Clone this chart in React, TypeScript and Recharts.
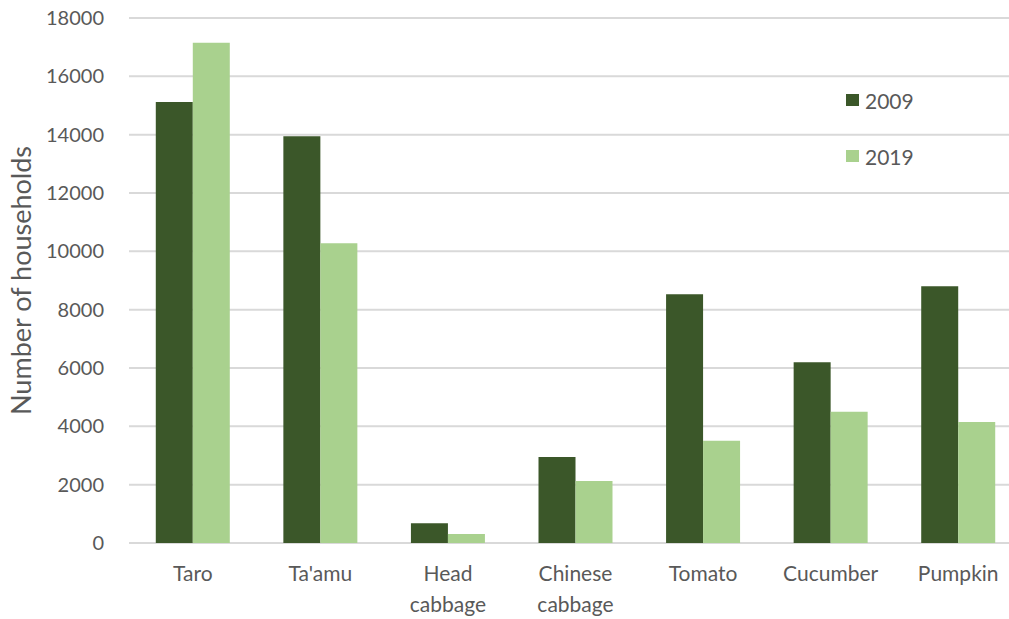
import { Bar, BarChart, CartesianGrid, Legend, XAxis, YAxis } from 'recharts';

const crops = ['Taro', "Ta'amu", 'Head cabbage', 'Chinese cabbage', 'Tomato', 'Cucumber', 'Pumpkin'];
const households2009 = [15120, 13950, 680, 2950, 8530, 6200, 8800];
const households2019 = [17150, 10280, 310, 2130, 3510, 4500, 4150];
const yTicks = [0, 2000, 4000, 6000, 8000, 10000, 12000, 14000, 16000, 18000];

const data = crops.map((name, i) => ({
  name,
  y2009: households2009[i],
  y2019: households2019[i],
}));

const FONT = 'Lato, "Open Sans", sans-serif';
const TEXT = '#595959';
const DARK = '#3b5729';
const LIGHT = '#a9d18e';

function CropTick({ x, y, payload }: any) {
  const words = String(payload.value).split(' ');
  return (
    <text x={x} y={y} textAnchor="middle" fill={TEXT} fontSize={21} fontFamily={FONT}>
      {words.map((w, i) => (
        <tspan key={i} x={x} dy={i === 0 ? 38 : 31}>
          {w}
        </tspan>
      ))}
    </text>
  );
}

function LegendBox() {
  const items = [
    { label: '2009', color: DARK },
    { label: '2019', color: LIGHT },
  ];
  return (
    <div style={{ fontFamily: FONT, fontSize: 21, color: TEXT }}>
      {items.map((it) => (
        <div key={it.label} style={{ display: 'flex', alignItems: 'center', height: 56 }}>
          <span style={{ width: 13, height: 12, background: it.color, marginRight: 6 }} />
          {it.label}
        </div>
      ))}
    </div>
  );
}

function AxisTitle({ viewBox }: any) {
  const cy = viewBox.y + viewBox.height / 2;
  return (
    <text
      x={20}
      y={cy}
      transform={`rotate(-90 20 ${cy})`}
      textAnchor="middle"
      dominantBaseline="central"
      fill={TEXT}
      fontSize={27}
      fontFamily={FONT}
    >
      Number of households
    </text>
  );
}

export default function App() {
  return (
    <div
      style={{
        position: 'absolute',
        left: 0,
        top: 0,
        width: 1009,
        height: 619,
        overflow: 'hidden',
        background: '#fff',
      }}
    >
      <BarChart
        width={1030}
        height={619}
        data={data}
        margin={{ top: 18, right: 8, bottom: 0, left: 0 }}
        barCategoryGap="21%"
        barGap={0}
      >
        <CartesianGrid vertical={false} stroke="#d9d9d9" strokeWidth={2} />
        <XAxis
          dataKey="name"
          height={76}
          axisLine={false}
          tickLine={false}
          tickSize={0}
          tickMargin={0}
          interval={0}
          tick={<CropTick />}
        />
        <YAxis
          width={129}
          domain={[0, 18000]}
          ticks={yTicks}
          axisLine={false}
          tickLine={false}
          tickSize={0}
          tickMargin={25}
          tick={{ fill: TEXT, fontSize: 20, fontFamily: FONT }}
          label={<AxisTitle />}
        />
        <Legend
          layout="vertical"
          verticalAlign="middle"
          align="center"
          content={<LegendBox />}
          wrapperStyle={{ left: 846, top: 72, width: 120 }}
        />
        <Bar dataKey="y2009" name="2009" fill={DARK} isAnimationActive={false} />
        <Bar dataKey="y2019" name="2019" fill={LIGHT} isAnimationActive={false} />
      </BarChart>
    </div>
  );
}
